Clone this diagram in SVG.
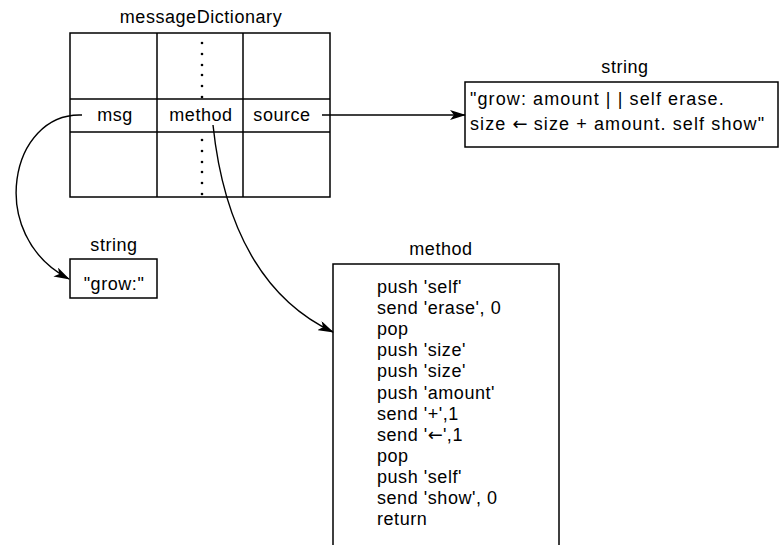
<svg xmlns="http://www.w3.org/2000/svg" width="780" height="545" viewBox="0 0 780 545">
<defs>
<marker id="ah" markerWidth="16" markerHeight="10" refX="15" refY="5" orient="auto" markerUnits="userSpaceOnUse">
<path d="M0,0 L16,5 L0,10 L4,5 Z" fill="#000"/>
</marker>
</defs>
<style>
text{font-family:"Liberation Sans",Arial,sans-serif;font-size:18px;letter-spacing:0.55px;fill:#000}
.c{text-anchor:middle}
.w{letter-spacing:1.1px}
.ar{font-family:"DejaVu Sans",sans-serif;font-size:18px;letter-spacing:0}
.box{fill:#fff;stroke:#000;stroke-width:1.5}
.ln{fill:none;stroke:#000;stroke-width:1.5}
.con{fill:none;stroke:#000;stroke-width:1.4;marker-end:url(#ah)}
.dot{fill:#000}
</style>
<rect width="780" height="545" fill="#fff"/>
<g id="messageDictionary">
<text class="c" x="201" y="23">messageDictionary</text>
<rect class="box" x="70" y="33" width="260" height="164"/>
<line class="ln" x1="70" y1="99" x2="330" y2="99"/>
<line class="ln" x1="70" y1="132" x2="330" y2="132"/>
<line class="ln" x1="157" y1="33" x2="157" y2="197"/>
<line class="ln" x1="243" y1="33" x2="243" y2="197"/>
<g class="dot">
<circle cx="202" cy="43" r="1.3"/><circle cx="202" cy="54" r="1.3"/><circle cx="202" cy="65" r="1.3"/><circle cx="202" cy="75" r="1.3"/><circle cx="202" cy="86" r="1.3"/><circle cx="202" cy="97" r="1.3"/>
<circle cx="202" cy="140" r="1.3"/><circle cx="202" cy="151" r="1.3"/><circle cx="202" cy="162" r="1.3"/><circle cx="202" cy="172" r="1.3"/><circle cx="202" cy="183" r="1.3"/><circle cx="202" cy="194" r="1.3"/>
</g>
<text class="c" x="115" y="121">msg</text>
<text class="c" x="201" y="121">method</text>
<text class="c" x="282" y="121">source</text>
</g>
<g id="sourceString">
<text class="c" x="625" y="73">string</text>
<rect class="box" x="465" y="82" width="313" height="65"/>
<text class="w" x="470" y="105">"grow: amount | | self erase.</text>
<text class="w" x="470" y="130">size <tspan class="ar">←</tspan> size + amount. self show"</text>
</g>
<g id="msgString">
<text class="c" x="114" y="251">string</text>
<rect class="box" x="70" y="259" width="87" height="39"/>
<text class="c" x="114" y="290">"grow:"</text>
</g>
<g id="methodBox">
<text class="c" x="441" y="255">method</text>
<path class="ln" d="M333,546 L333,264 L559,264 L559,546"/>
<text x="377" y="293">push 'self'</text>
<text x="377" y="314">send 'erase', 0</text>
<text x="377" y="335">pop</text>
<text x="377" y="356">push 'size'</text>
<text x="377" y="377">push 'size'</text>
<text x="377" y="399">push 'amount'</text>
<text x="377" y="420">send '+',1</text>
<text x="377" y="441">send '<tspan class="ar">←</tspan>',1</text>
<text x="377" y="462">pop</text>
<text x="377" y="483">push 'self'</text>
<text x="377" y="504">send 'show', 0</text>
<text x="377" y="525">return</text>
</g>
<g id="connectors">
<path class="con" d="M322,115 L465,115"/>
<path class="con" d="M82,115 C10,112 -15,235 69,279"/>
<path class="con" d="M213,125 C224,230 265,300 333,332"/>
</g>
</svg>
